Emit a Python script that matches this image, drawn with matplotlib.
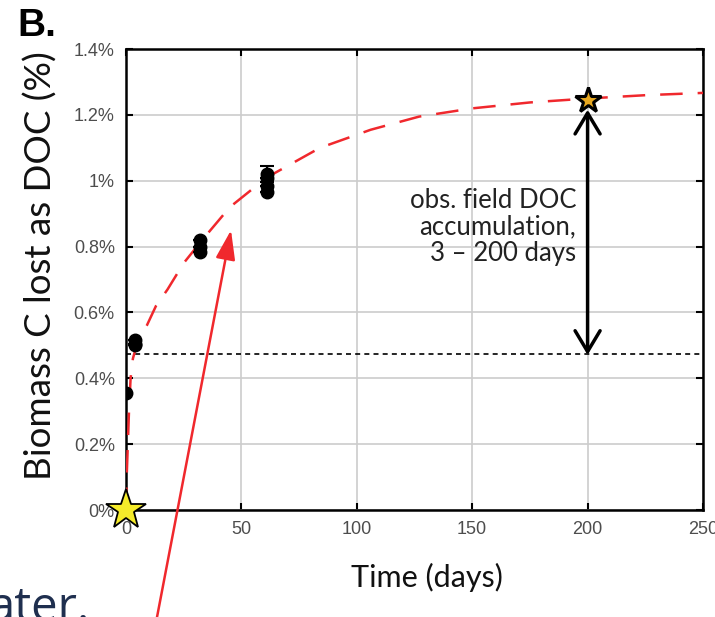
import numpy as np
import matplotlib.pyplot as plt

# measured DOC release (% of biomass C)
t_obs = [0, 4, 4, 4, 32, 32, 32, 61, 61, 61, 61]
doc_obs = [0.356, 0.50, 0.505, 0.515, 0.785, 0.80, 0.82, 0.965, 0.985, 1.01, 1.02]
err_obs = [0, 0, 0, 0, 0, 0, 0, 0, 0, 0, 0.025]

# fitted curve
t_fit = [0, 0.3, 0.8, 1.3, 2, 3, 5, 9, 13, 18, 25, 33, 45, 61, 84, 106, 127, 150, 175, 200, 225, 250]
doc_fit = [0.0, 0.1, 0.2, 0.3, 0.4, 0.46, 0.51, 0.56, 0.62, 0.67, 0.75, 0.82, 0.92, 1.01,
           1.10, 1.155, 1.195, 1.22, 1.238, 1.25, 1.26, 1.267]

# field observation
t_field = 200
doc_field = 1.244
doc_day3 = 0.475

yticks = [0, 0.2, 0.4, 0.6, 0.8, 1.0, 1.2, 1.4]
ytick_labels = ["0%", "0.2%", "0.4%", "0.6%", "0.8%", "1%", "1.2%", "1.4%"]
xticks = [0, 50, 100, 150, 200, 250]

red = "#f0282d"

fig = plt.figure(figsize=(7.15, 6.17), dpi=100)
ax = fig.add_axes([0.1762, 0.1734, 0.807, 0.747])

ax.plot(t_fit, doc_fit, color=red, lw=1.8, ls=(0, (9, 6)), zorder=3)
ax.axhline(doc_day3, color="black", lw=1.2, ls=(0, (3, 2.5)), zorder=2)
ax.errorbar(t_obs, doc_obs, yerr=err_obs, fmt="o", color="black", ms=9,
            capsize=5, elinewidth=1.5, capthick=1.5, zorder=4)

# double arrow: field DOC accumulation
ax.annotate("", xy=(t_field, doc_field - 0.028), xytext=(t_field, doc_day3 - 0.004),
            arrowprops=dict(arrowstyle="<->, head_length=0.75, head_width=0.45",
                            color="black", lw=2.5, mutation_scale=20,
                            shrinkA=0, shrinkB=0), zorder=5)
ax.plot(t_field, doc_field, marker="*", ms=19, mfc="#e8a820", mec="black", mew=2.2,
        zorder=6, clip_on=False)
ax.plot(0, 0, marker="*", ms=30, mfc="#f5eb2a", mec="black", mew=1.3,
        zorder=6, clip_on=False)

ax.text(195, 0.978, "obs. field DOC\naccumulation,\n3 \u2013 200 days", ha="right", va="top",
        fontsize=18.5, family="Lato", color="#222222", linespacing=1.08, zorder=3)

# red arrow coming from the slide text
ax.annotate("", xy=(45.5, 0.85), xytext=(12.5, -0.36), xycoords="data",
            arrowprops=dict(arrowstyle="-|>, head_length=0.9, head_width=0.3",
                            color=red, lw=1.8, mutation_scale=20, shrinkA=0, shrinkB=0),
            annotation_clip=False, zorder=7)

ax.set_xlim(0, 250)
ax.set_ylim(0, 1.4)
ax.set_xticks(xticks)
ax.set_yticks(yticks)
ax.set_yticklabels(ytick_labels)
ax.tick_params(direction="in", length=5, width=1.5, top=True, right=True,
               labelsize=13, labelcolor="#4d4d4d", pad=8)
for lab in ax.get_xticklabels() + ax.get_yticklabels():
    lab.set_family("Liberation Sans")
ax.grid(color="#cccccc", lw=1.2)
ax.set_axisbelow(True)
for sp in ax.spines.values():
    sp.set_linewidth(1.8)

ax.set_xlabel("Time (days)", fontsize=22, family="Lato", color="#111111")
ax.xaxis.set_label_coords(0.522, -0.115)
ax.set_ylabel("Biomass C lost as DOC (%)", fontsize=26.5, family="Lato", color="#111111")
ax.yaxis.set_label_coords(-0.118, 0.53)

fig.text(0.025, 0.942, "B.", fontsize=28, fontweight="bold", family="Liberation Sans")
fig.text(-0.016, -0.006, "ater.", fontsize=34, family="Open Sans", color="#1f2f4f")

plt.savefig("out.png", dpi=100)
plt.close()
